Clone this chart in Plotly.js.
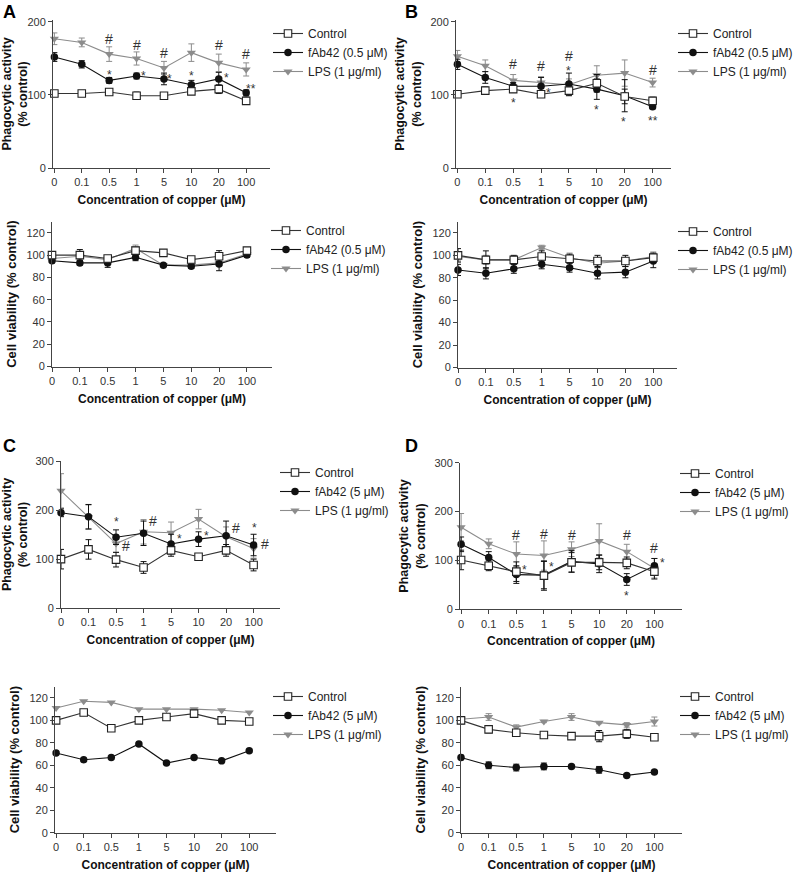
<!DOCTYPE html>
<html>
<head>
<meta charset="utf-8">
<script src="https://cdn.plot.ly/plotly-3.0.1.min.js"></script>
<style>html,body{margin:0;padding:0;background:#fff;}#chart{width:800px;height:874px;}</style>
</head>
<body>
<div id="chart"></div>
<script>
// ---------- DATA ----------
const categories = ['0', '0.1', '0.5', '1', '5', '10', '20', '100'];
const seriesNames = ['Control', 'fAb42 (0.5 μM)', 'LPS (1 μg/ml)'];
const seriesNamesCD = ['Control', 'fAb42 (5 μM)', 'LPS (1 μg/ml)'];

// Panel A – phagocytic activity
const aPhagoControl = [102, 102, 104, 99, 99, 105, 108, 92];
const aPhagoControlErr = [4, 4, 4, 5, 4, 4, 6, 5];
const aPhagoFab = [152, 142, 120, 126, 122, 114, 122, 103];
const aPhagoFabErr = [6, 5, 4, 4, 8, 6, 9, 4];
const aPhagoLps = [177, 172, 156, 150, 137, 158, 144, 135];
const aPhagoLpsErr = [8, 6, 10, 9, 9, 12, 12, 9];
// Panel A – cell viability
const aViabControl = [100, 100, 97, 104, 102, 96, 99, 104];
const aViabControlErr = [2, 5, 2, 3, 2, 2, 5, 2];
const aViabFab = [95, 93, 93, 98, 91, 90, 92, 100];
const aViabFabErr = [2, 2, 4, 3, 1, 2, 6, 2];
const aViabLps = [97, 99, 96, 106, 91, 91, 93, 101];
const aViabLpsErr = [2, 3, 2, 3, 1, 1, 2, 2];

// Panel B – phagocytic activity
const bPhagoControl = [101, 106, 108, 101, 106, 116, 98, 92];
const bPhagoControlErr = [4, 5, 4, 4, 7, 12, 10, 5];
const bPhagoFab = [142, 124, 112, 112, 115, 108, 99, 84];
const bPhagoFabErr = [7, 8, 5, 12, 15, 14, 22, 3];
const bPhagoLps = [153, 140, 120, 117, 114, 127, 130, 117];
const bPhagoLpsErr = [8, 8, 8, 8, 8, 13, 18, 6];
// Panel B – cell viability
const bViabControl = [100, 96, 96, 99, 97, 95, 95, 98];
const bViabControlErr = [6, 8, 4, 5, 4, 5, 5, 4];
const bViabFab = [87, 84, 88, 92, 89, 84, 85, 95];
const bViabFabErr = [5, 5, 4, 4, 4, 5, 5, 6];
const bViabLps = [99, 96, 96, 107, 98, 93, 95, 99];
const bViabLpsErr = [4, 4, 3, 2, 4, 3, 3, 4];

// Panel C – phagocytic activity
const cPhagoControl = [100, 120, 99, 83, 118, 105, 118, 88];
const cPhagoControlErr = [20, 20, 15, 12, 12, 6, 12, 12];
const cPhagoFab = [195, 187, 145, 153, 131, 141, 148, 129];
const cPhagoFabErr = [8, 25, 15, 25, 20, 15, 30, 22];
const cPhagoLps = [240, 186, 132, 156, 154, 182, 146, 122];
const cPhagoLpsErr = [35, 25, 18, 25, 22, 20, 20, 20];
// Panel C – cell viability
const cViabControl = [100, 107, 93, 100, 103, 106, 100, 99];
const cViabFab = [71, 65, 67, 79, 62, 67, 64, 73];
const cViabLps = [111, 117, 116, 110, 110, 110, 109, 107];

// Panel D – phagocytic activity
const dPhagoControl = [101, 89, 77, 69, 96, 96, 95, 77];
const dPhagoControlErr = [20, 10, 20, 30, 20, 15, 12, 15];
const dPhagoFab = [133, 106, 71, 70, 98, 93, 61, 89];
const dPhagoFabErr = [15, 12, 18, 28, 22, 18, 12, 15];
const dPhagoLps = [168, 134, 113, 110, 123, 140, 118, 84];
const dPhagoLpsErr = [28, 10, 25, 30, 15, 35, 15, 20];
// Panel D – cell viability
const dViabControl = [100, 92, 89, 87, 86, 86, 88, 85];
const dViabControlErr = [3, 3, 2, 2, 1, 5, 4, 1];
const dViabFab = [67, 60, 58, 59, 59, 56, 51, 54];
const dViabFabErr = [2, 3, 3, 3, 1, 3, 1, 1];
const dViabLps = [101, 103, 94, 99, 103, 98, 96, 99];
const dViabLpsErr = [2, 3, 2, 1, 3, 1, 2, 4];

// significance marks: [text, category position, value]
const aMarks = [['#',2,176],['#',3,169],['#',4,157],['#',6,168],['#',7,156],
  ['*',2,133],['*',3.27,131],['*',4.22,127],['*',5,131],['*',6.27,129],['**',7.18,113]];
const bMarks = [['#',2,142],['#',3,140],['#',4,153],['#',7,134],
  ['*',2,94],['*',3.26,108],['*',4,138],['*',5,85],['*',5.95,68],['**',7,70]];
const cMarks = [['*',2,184],['#',2.37,127],['#',3.34,178],['*',4.31,149],['*',5.28,156],
  ['#',6.37,163],['*',7.03,171],['#',7.4,132]];
const dMarks = [['#',2,152],['#',3,155],['#',4,152],['#',6,152],['#',7,125],
  ['*',2.3,89],['*',3.29,95],['*',6,36],['*',7.3,102]];

// ---------- STYLE / LAYOUT ----------
const FONT = 'Liberation Sans, Arial, sans-serif';
const W = 800, H = 874;
const px = v => v / W;
const py = v => 1 - v / H;

const panels = [
  {ax:'', xpx:[53,270], ypx:[168,20], xr:[-0.05,7.87], yr:[0,202.7], yt:[0,100,200],
   title:'Phagocytic activity<br>(% control)', tsize:12.5, names:seriesNames,
   ctrl:aPhagoControl, ctrlE:aPhagoControlErr, fab:aPhagoFab, fabE:aPhagoFabErr, lps:aPhagoLps, lpsE:aPhagoLpsErr,
   leg:[268,19], marks:aMarks},
  {ax:'2', xpx:[52,272], ypx:[366.5,221.7], xr:[0,7.9], yr:[0,130], yt:[0,20,40,60,80,100,120],
   title:'Cell viability (% control)', tsize:13, names:seriesNames,
   ctrl:aViabControl, ctrlE:aViabControlErr, fab:aViabFab, fabE:aViabFabErr, lps:aViabLps, lpsE:aViabLpsErr,
   leg:[266,216], marks:[]},
  {ax:'3', xpx:[456,671], ypx:[168,20], xr:[-0.05,7.66], yr:[0,202.7], yt:[0,100,200],
   title:'Phagocytic activity<br>(% control)', tsize:12.5, names:seriesNames,
   ctrl:bPhagoControl, ctrlE:bPhagoControlErr, fab:bPhagoFab, fabE:bPhagoFabErr, lps:bPhagoLps, lpsE:bPhagoLpsErr,
   leg:[673,19], marks:bMarks},
  {ax:'4', xpx:[458,677], ypx:[367.5,221.7], xr:[0,7.85], yr:[0,130], yt:[0,20,40,60,80,100,120],
   title:'Cell viability (% control)', tsize:13, names:seriesNames,
   ctrl:bViabControl, ctrlE:bViabControlErr, fab:bViabFab, fabE:bViabFabErr, lps:bViabLps, lpsE:bViabLpsErr,
   leg:[673,217], marks:[]},
  {ax:'5', xpx:[61,280], ypx:[608,461], xr:[0,7.96], yr:[0,301], yt:[0,100,200,300],
   title:'Phagocytic activity<br>(% control)', tsize:12.5, names:seriesNamesCD,
   ctrl:cPhagoControl, ctrlE:cPhagoControlErr, fab:cPhagoFab, fabE:cPhagoFabErr, lps:cPhagoLps, lpsE:cPhagoLpsErr,
   leg:[275,458], marks:cMarks},
  {ax:'6', xpx:[55,276], ypx:[832.7,686.7], xr:[-0.04,7.97], yr:[0,130], yt:[0,20,40,60,80,100,120],
   title:'Cell viability (% control)', tsize:13, names:seriesNamesCD,
   ctrl:cViabControl, ctrlE:null, fab:cViabFab, fabE:null, lps:cViabLps, lpsE:null,
   leg:[268,682], marks:[]},
  {ax:'7', xpx:[460,682], ypx:[609.3,462.7], xr:[-0.04,8.0], yr:[0,300], yt:[0,100,200,300],
   title:'Phagocytic activity<br>(% control)', tsize:12.5, names:seriesNamesCD,
   ctrl:dPhagoControl, ctrlE:dPhagoControlErr, fab:dPhagoFab, fabE:dPhagoFabErr, lps:dPhagoLps, lpsE:dPhagoLpsErr,
   leg:[675,459], marks:dMarks},
  {ax:'8', xpx:[461,682], ypx:[832.7,686.7], xr:[0,8.0], yr:[0,130], yt:[0,20,40,60,80,100,120],
   title:'Cell viability (% control)', tsize:13, names:seriesNamesCD,
   ctrl:dViabControl, ctrlE:dViabControlErr, fab:dViabFab, fabE:dViabFabErr, lps:dViabLps, lpsE:dViabLpsErr,
   leg:[675,682], marks:[]}
];

const traces = [];
const layout = {
  width: W, height: H,
  margin: {l:0, r:0, t:0, b:0},
  paper_bgcolor: '#fff', plot_bgcolor: 'rgba(0,0,0,0)',
  font: {family: FONT, color: '#222'},
  showlegend: true,
  annotations: []
};

function errObj(arr, color) {
  if (!arr) return {visible: false};
  return {type:'data', array: arr, visible: true, color: color, thickness: 1, width: 3};
}

panels.forEach((p, i) => {
  const xa = 'x' + p.ax, ya = 'y' + p.ax;
  const legKey = i === 0 ? 'legend' : 'legend' + (i + 1);
  const common = {x: categories, xaxis: xa, yaxis: ya, mode: 'lines+markers', legend: legKey, cliponaxis: false};
  traces.push(Object.assign({}, common, {
    name: p.names[2], y: p.lps, error_y: errObj(p.lpsE, '#8c8c8c'),
    line: {color: '#8c8c8c', width: 1.1},
    marker: {symbol: 'triangle-down', size: 8, color: '#8c8c8c'}
  }));
  traces.push(Object.assign({}, common, {
    name: p.names[1], y: p.fab, error_y: errObj(p.fabE, '#111'),
    line: {color: '#111', width: 1.1},
    marker: {symbol: 'circle', size: 7.5, color: '#111'}
  }));
  traces.push(Object.assign({}, common, {
    name: p.names[0], y: p.ctrl, error_y: errObj(p.ctrlE, '#111'),
    line: {color: '#333', width: 1.1},
    marker: {symbol: 'square', size: 7.5, color: '#fff', line: {color: '#222', width: 1.1}}
  }));

  const xKey = 'xaxis' + p.ax, yKey = 'yaxis' + p.ax;
  layout[xKey] = {
    domain: [px(p.xpx[0]), px(p.xpx[1])], anchor: ya,
    type: 'category', categoryorder: 'array', categoryarray: categories,
    range: p.xr, showgrid: false, zeroline: false,
    showline: true, linecolor: '#444', linewidth: 1,
    ticks: 'outside', ticklen: 4, tickcolor: '#444',
    tickfont: {size: 11, color: '#333', family: FONT},
    title: {text: 'Concentration of copper (μM)', font: {size: 12, color: '#111', family: FONT, weight: 'bold'}, standoff: 8},
    fixedrange: true
  };
  layout[yKey] = {
    domain: [py(p.ypx[0]), py(p.ypx[1])], anchor: xa,
    range: p.yr, tickvals: p.yt, showgrid: false, zeroline: false,
    showline: true, linecolor: '#444', linewidth: 1,
    ticks: 'outside', ticklen: 4, tickcolor: '#444',
    tickfont: {size: 11, color: '#333', family: FONT},
    title: {text: p.title, font: {size: p.tsize, color: '#111', family: FONT, weight: 'bold'}, standoff: 6},
    fixedrange: true
  };
  layout[legKey] = {
    x: px(p.leg[0]), y: py(p.leg[1]), xanchor: 'left', yanchor: 'top',
    traceorder: 'reversed', bgcolor: 'rgba(0,0,0,0)',
    font: {size: 12, color: '#222', family: FONT},
    tracegroupgap: 0, itemwidth: 30
  };
  p.marks.forEach(m => {
    const star = m[0].indexOf('*') >= 0;
    layout.annotations.push({
      xref: xa, yref: ya, x: m[1], y: m[2], text: m[0], showarrow: false,
      font: {size: star ? 12 : 14, color: '#333', family: FONT},
      yshift: star ? -4 : 0
    });
  });
});

const letters = [['A', 9, 12], ['B', 411, 12], ['C', 9, 446], ['D', 411, 446]];
letters.forEach(l => {
  layout.annotations.push({
    xref: 'paper', yref: 'paper', x: px(l[1]), y: py(l[2]), text: '<b>' + l[0] + '</b>',
    showarrow: false, xanchor: 'center', yanchor: 'middle',
    font: {size: 18, color: '#000', family: FONT}
  });
});

Plotly.newPlot('chart', traces, layout, {staticPlot: true, displayModeBar: false});
</script>
</body>
</html>
